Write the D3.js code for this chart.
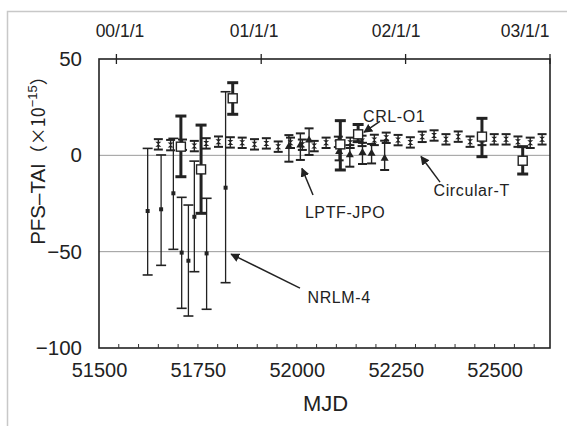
<!DOCTYPE html>
<html>
<head>
<meta charset="utf-8">
<script src="https://cdn.jsdelivr.net/npm/d3@7/dist/d3.min.js"></script>
<style>
  body { margin: 0; background: #fff; }
  text { font-family: "Liberation Sans", Arial, sans-serif; fill: #222; }
</style>
</head>
<body>
<svg id="chart" width="567" height="426"></svg>
<script>
// Axis ticks
const bottomTicks = [51500, 51750, 52000, 52250, 52500];
const minorTicks = [51550, 51600, 51650, 51700, 51800, 51850, 51900, 51950, 52050, 52100, 52150, 52200, 52300, 52350, 52400, 52450, 52550, 52600];
const yTicks = [50, 0, -50, -100];
const dateTickMjd = [51544, 51910, 52275, 52640];
const dateTickLabels = ['00/1/1', '01/1/1', '02/1/1', '03/1/1'];
// the printed date labels sit a little left of their ticks
const dateLabelMjd = [51553, 51892, 52251, 52577];
const gridValues = [0, -50];

// Circular-T (small markers)
const ctMjd = [51650, 51681, 51711, 51741, 51771, 51802, 51832, 51862, 51893, 51923, 51953,
  51984, 52014, 52044, 52074, 52105, 52135, 52165, 52196, 52226, 52256, 52287, 52317,
  52347, 52377, 52408, 52438, 52468, 52499, 52529, 52559, 52590, 52620];
const ctVal = [5.7, 5.3, 5.5, 4.8, 6.2, 7.1, 6.7, 6.5, 5.7, 6.2, 4.5,
  6.5, 5.5, 4.8, 6.5, 7.0, 6.5, 7.5, 8.0, 9.1, 7.9, 6.7, 9.6,
  10.3, 8.3, 9.7, 7.1, 8.0, 8.3, 8.3, 7.1, 6.5, 8.3];
const ctErr = [2.7, 2.7, 2.7, 2.7, 2.7, 2.7, 2.7, 2.7, 2.7, 2.7, 2.7,
  2.7, 2.7, 2.7, 2.7, 2.7, 2.7, 2.7, 2.7, 2.7, 2.7, 2.7, 2.7,
  2.7, 2.7, 2.7, 2.7, 2.7, 2.7, 2.7, 2.7, 2.7, 2.7];

// NRLM-4 (thin bars, small filled squares)
const nrlmMjd = [51623, 51657, 51688, 51709, 51726, 51741, 51772, 51820];
const nrlmVal = [-28.9, -28.0, -19.7, -50.5, -54.7, -31.9, -50.9, -16.8];
const nrlmLo = [-62.1, -57.1, -48.8, -79.4, -83.4, -60.4, -79.9, -66.1];
const nrlmHi = [3.6, 0.2, 8.8, -21.8, -25.8, -3.0, -22.3, 33.0];

// CRL-O1 (thick bars, open squares)
const crlMjd = [51707, 51758, 51838, 52110, 52155, 52468, 52571];
const crlVal = [4.5, -7.3, 29.6, 5.7, 10.9, 9.7, -2.8];
const crlLo = [-11.1, -30.1, 21.3, -7.6, 7.1, -0.7, -9.7];
const crlHi = [20.4, 15.7, 37.7, 18.0, 16.0, 19.2, 4.5];

// LPTF-JPO (triangles)
const lptfMjd = [51980, 52009, 52031, 52107, 52134, 52166, 52189, 52222];
const lptfVal = [4.5, 5.3, 7.9, 1.9, 0.2, 1.4, 1.0, -1.6];
const lptfLo = [-3.3, -2.4, 0.2, -2.6, -5.9, -4.5, -4.2, -7.6];
const lptfHi = [10.5, 11.4, 14.0, 7.6, 5.3, 6.5, 5.9, 7.6];

// Annotations: label position and arrow, in data units
const annotations = [
  { label: 'CRL-O1', tx: 52246, ty: 20.4, x1: 52210, y1: 17.6, x2: 52170, y2: 12.0 },
  { label: 'LPTF-JPO', tx: 52122, ty: -29.7, x1: 52041, y1: -20.6, x2: 52013, y2: -6.8 },
  { label: 'Circular-T', tx: 52442, ty: -18.0, x1: 52362, y1: -13.9, x2: 52314, y2: -0.6 },
  { label: 'NRLM-4', tx: 52107, ty: -73.5, x1: 52008, y1: -68.9, x2: 51834, y2: -51.3 }
];

const svg = d3.select('#chart');
const plot = { left: 99, right: 550, top: 59, bottom: 348 };

const x = d3.scaleLinear().domain([51500, 52640]).range([plot.left, plot.right]);
const y = d3.scaleLinear().domain([-100, 50]).range([plot.bottom, plot.top]);

// Light page border
svg.append('path')
  .attr('d', 'M7.5,426 V11.5 H567')
  .attr('fill', 'none')
  .attr('stroke', '#c8c8c8')
  .attr('stroke-width', 1.5);

// Grid lines
svg.selectAll('.grid')
  .data(gridValues)
  .enter().append('line')
  .attr('class', 'grid')
  .attr('x1', plot.left).attr('x2', plot.right)
  .attr('y1', d => y(d)).attr('y2', d => y(d))
  .attr('stroke', '#9a9a9a')
  .attr('stroke-width', 1);

// Frame
svg.append('rect')
  .attr('x', plot.left).attr('y', plot.top)
  .attr('width', plot.right - plot.left)
  .attr('height', plot.bottom - plot.top)
  .attr('fill', 'none')
  .attr('stroke', '#222')
  .attr('stroke-width', 1.6);

// Bottom axis
const xAxis = d3.axisBottom(x).tickValues(bottomTicks).tickSize(0).tickPadding(15).tickFormat(d3.format('d'));
const gx = svg.append('g').attr('transform', `translate(0,${plot.bottom})`).call(xAxis);
gx.select('.domain').remove();
gx.selectAll('text').style('font-size', '20px').attr('fill', '#222');

svg.selectAll('.minor')
  .data(bottomTicks.concat(minorTicks).filter(d => d > 51500))
  .enter().append('line')
  .attr('class', 'minor')
  .attr('x1', d => x(d)).attr('x2', d => x(d))
  .attr('y1', plot.bottom).attr('y2', plot.bottom - 4)
  .attr('stroke', '#333').attr('stroke-width', 1);

// Left axis
const yAxis = d3.axisLeft(y).tickValues(yTicks).tickSize(0).tickPadding(17).tickFormat(d => d < 0 ? '\u2212' + Math.abs(d) : d);
const gy = svg.append('g').attr('transform', `translate(${plot.left},0)`).call(yAxis);
gy.select('.domain').remove();
gy.selectAll('text').style('font-size', '20.5px').attr('fill', '#222');

// Top date axis: ticks across the frame, labels placed as printed
svg.selectAll('.dtick')
  .data(dateTickMjd)
  .enter().append('line')
  .attr('class', 'dtick')
  .attr('x1', d => x(d)).attr('x2', d => x(d))
  .attr('y1', plot.top - 5).attr('y2', plot.top + 5)
  .attr('stroke', '#222').attr('stroke-width', 1.3);
svg.selectAll('.dlabel')
  .data(dateLabelMjd)
  .enter().append('text')
  .attr('class', 'dlabel')
  .attr('x', d => x(d)).attr('y', 37)
  .attr('text-anchor', 'middle')
  .style('font-size', '17.5px')
  .text((d, i) => dateTickLabels[i]);

// Axis titles
svg.append('text')
  .attr('x', (plot.left + plot.right) / 2 + 1).attr('y', 411)
  .attr('text-anchor', 'middle')
  .style('font-size', '22px')
  .text('MJD');

const ytitle = svg.append('text')
  .attr('transform', `translate(45,156) rotate(-90)`)
  .attr('text-anchor', 'middle')
  .style('font-size', '20.5px');
ytitle.append('tspan').text('PFS\u2013TAI');
ytitle.append('tspan').style('font-family', '"Noto Sans CJK JP"').style('font-size', '18px').text('\uFF08\u00D710');
ytitle.append('tspan').attr('dy', -8).style('font-size', '13px').text('\u221215');
ytitle.append('tspan').attr('dy', 8).style('font-family', '"Noto Sans CJK JP"').style('font-size', '18px').text('\uFF09');

// Error bar helper
function errorBars(cls, mjd, lo, hi, opts) {
  const g = svg.append('g').attr('class', cls);
  const items = mjd.map((m, i) => ({ m: m, lo: lo[i], hi: hi[i] }));
  g.selectAll('.bar').data(items).enter().append('line')
    .attr('x1', d => x(d.m)).attr('x2', d => x(d.m))
    .attr('y1', d => y(d.lo)).attr('y2', d => y(d.hi))
    .attr('stroke', '#222').attr('stroke-width', opts.width);
  ['lo', 'hi'].forEach(k => {
    g.selectAll('.cap-' + k).data(items).enter().append('line')
      .attr('x1', d => x(d.m) - opts.cap).attr('x2', d => x(d.m) + opts.cap)
      .attr('y1', d => y(d[k])).attr('y2', d => y(d[k]))
      .attr('stroke', '#222').attr('stroke-width', opts.capWidth);
  });
  return g;
}

// NRLM-4
const gN = errorBars('nrlm', nrlmMjd, nrlmLo, nrlmHi, { width: 1.3, cap: 5, capWidth: 1.6 });
gN.selectAll('.pt').data(nrlmMjd).enter().append('rect')
  .attr('x', (d) => x(d) - 2).attr('y', (d, i) => y(nrlmVal[i]) - 2)
  .attr('width', 4).attr('height', 4)
  .attr('fill', '#222');

// Circular-T
const gC = errorBars('ct', ctMjd, ctVal.map((v, i) => v - ctErr[i]), ctVal.map((v, i) => v + ctErr[i]), { width: 1.4, cap: 4.5, capWidth: 2 });
gC.selectAll('.pt').data(ctMjd).enter().append('path')
  .attr('d', (d, i) => {
    const cx = x(d), cy = y(ctVal[i]);
    return `M${cx - 3},${cy - 2.5}L${cx + 3},${cy - 2.5}L${cx},${cy}Z M${cx - 3},${cy + 2.5}L${cx + 3},${cy + 2.5}L${cx},${cy}Z`;
  })
  .attr('fill', '#222');

// LPTF-JPO
const gL = errorBars('lptf', lptfMjd, lptfLo, lptfHi, { width: 1.4, cap: 4.5, capWidth: 2 });
gL.selectAll('.pt').data(lptfMjd).enter().append('path')
  .attr('d', d3.symbol().type(d3.symbolTriangle).size(28))
  .attr('transform', (d, i) => `translate(${x(d)},${y(lptfVal[i])})`)
  .attr('fill', '#222');

// CRL-O1
const gR = errorBars('crl', crlMjd, crlLo, crlHi, { width: 3, cap: 5.5, capWidth: 3 });
gR.selectAll('.pt').data(crlMjd).enter().append('rect')
  .attr('x', d => x(d) - 4.5).attr('y', (d, i) => y(crlVal[i]) - 4.5)
  .attr('width', 9).attr('height', 9)
  .attr('fill', '#fff').attr('stroke', '#222').attr('stroke-width', 1.4);

// Annotations
svg.append('defs').append('marker')
  .attr('id', 'arrow')
  .attr('viewBox', '0 0 10 10')
  .attr('refX', 9).attr('refY', 5)
  .attr('markerWidth', 9).attr('markerHeight', 9)
  .attr('markerUnits', 'userSpaceOnUse')
  .attr('orient', 'auto')
  .append('path').attr('d', 'M0,0L10,5L0,10Z').attr('fill', '#222');

const ann = svg.selectAll('.ann').data(annotations).enter().append('g').attr('class', 'ann');
ann.append('line')
  .attr('x1', d => x(d.x1)).attr('y1', d => y(d.y1))
  .attr('x2', d => x(d.x2)).attr('y2', d => y(d.y2))
  .attr('stroke', '#222').attr('stroke-width', 1.5)
  .attr('marker-end', 'url(#arrow)');
ann.append('text')
  .attr('x', d => x(d.tx)).attr('y', d => y(d.ty))
  .attr('dy', '0.35em')
  .attr('text-anchor', 'middle')
  .style('font-size', '16px')
  .style('letter-spacing', '0.6px')
  .text(d => d.label);
</script>
</body>
</html>
